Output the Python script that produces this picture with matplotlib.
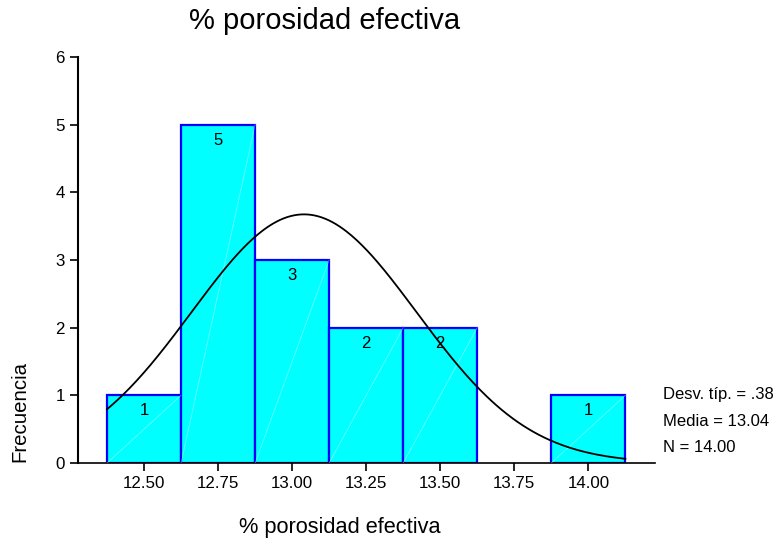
import numpy as np
import matplotlib.pyplot as plt

plt.rcParams['font.family'] = ['Liberation Sans', 'DejaVu Sans']

# histogram data
bin_centers = [12.50, 12.75, 13.00, 13.25, 13.50, 13.75, 14.00]
counts = [1, 5, 3, 2, 2, 0, 1]
tick_labels = ['12.50', '12.75', '13.00', '13.25', '13.50', '13.75', '14.00']
bin_width = 0.25
mean = 13.04
std = 0.38
n = 14

fig = plt.figure(figsize=(7.75, 5.44), dpi=100)
ax = fig.add_axes([78 / 775, 1 - 463 / 544, (655 - 78) / 775, (463 - 57) / 544])

# bars
for c, h in zip(bin_centers, counts):
    if h == 0:
        continue
    ax.bar(c, h, width=bin_width, color='#00FFFF', edgecolor='#0000FF', linewidth=1.6, zorder=2)
    # faint diagonal inside each bar
    ax.plot([c - bin_width / 2, c + bin_width / 2], [0, h], color='white', lw=0.6, alpha=0.4, zorder=3)
    ax.text(c, h - 0.23, str(h), ha='center', va='center', fontsize=12, zorder=4)

# normal curve
lo = bin_centers[0] - bin_width / 2
hi = bin_centers[-1] + bin_width / 2
xs = np.linspace(lo, hi, 300)
ys = n * bin_width / (std * np.sqrt(2 * np.pi)) * np.exp(-0.5 * ((xs - mean) / std) ** 2)
ax.plot(xs, ys, color='black', lw=1.3, zorder=5)

ax.set_xlim(12.277, 14.225)
ax.set_ylim(0, 6)
ax.set_xticks(bin_centers)
ax.set_xticklabels(tick_labels)
ax.set_yticks(range(7))
ax.tick_params(axis='both', labelsize=12.2, length=6, width=1.2, direction='out')
ax.tick_params(axis='x', pad=3)
for s in ['top', 'right']:
    ax.spines[s].set_visible(False)
ax.spines['left'].set_linewidth(1.5)
ax.spines['bottom'].set_linewidth(1.2)

fig.text(325 / 775, 1 - 21 / 544, '% porosidad efectiva', ha='center', va='center', fontsize=21)
fig.text(340 / 775, 1 - 528 / 544, '% porosidad efectiva', ha='center', va='center', fontsize=15.7)
fig.text(20 / 775, 1 - 412 / 544, 'Frecuencia', ha='center', va='center', rotation=90, fontsize=14.7)

stats = ['Desv. típ. = .38', 'Media = 13.04', 'N = 14.00']
for i, s in enumerate(stats):
    fig.text(663 / 775, 1 - (395 + 26 * i) / 544, s, ha='left', va='center', fontsize=12)

fig.savefig('out.png', dpi=100)
